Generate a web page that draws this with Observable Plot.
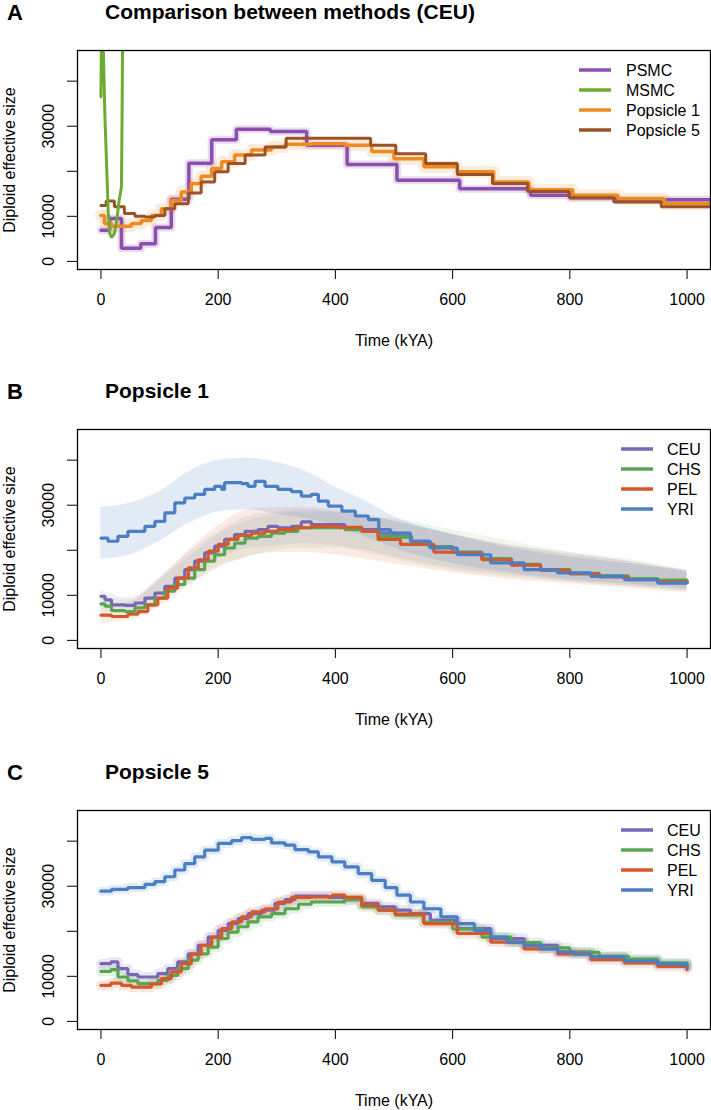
<!DOCTYPE html>
<html>
<head>
<meta charset="utf-8">
<script src="https://cdn.jsdelivr.net/npm/d3@7"></script>
<script src="https://cdn.jsdelivr.net/npm/@observablehq/plot@0.6"></script>
<style>
  body { margin: 0; background: #fff; font-family: "Liberation Sans", Arial, Helvetica, sans-serif; color: #000; }
  .panel { position: relative; width: 711px; }
  .panel svg { display: block; position: absolute; left: 0; top: 0; }
  .letter { position: absolute; left: 7px; top: 0px; font-weight: bold; font-size: 22px; line-height: 1.15; }
  .title { position: absolute; left: 105px; top: 0px; font-weight: bold; font-size: 21px; line-height: 1.15; }
</style>
</head>
<body>
<div id="root"></div>
<script>
// ---------- axes ----------
const xTicks = [0, 200, 400, 600, 800, 1000];
const yTicks = [0, 10000, 20000, 30000, 40000];
const yTickLabels = [0, 10000, 30000];
const xLabel = "Time (kYA)";
const yLabel = "Diploid effective size";

// ---------- panel A: methods (CEU) [kYA, Ne] ----------
const methodNames = ["PSMC", "MSMC", "Popsicle 1", "Popsicle 5"];
const psmcA = [[0,6900],[15,9500],[35,2900],[68,3900],[93,7500],[120,13800],[150,21800],[189,27000],[231,29300],[289,28800],[351,25800],[420,21500],[505,18000],[612,16100],[733,14700],[800,14100],[880,13700],[1100,13700]];
const msmcA = [[0,36500],[0.8,50000],[1.6,60000],[2.4,60000],[3.2,55000],[4,47000],[7,31300],[10,20200],[12.5,10600],[15,6200],[18,5300],[23,6200],[27,9100],[31,13500],[35,16500],[36,31300],[37,50000]];
const pop1A = [[0,10200],[6,8400],[18,7800],[35,7800],[52,8400],[69,9100],[86,10200],[103,11700],[120,13500],[137,15400],[154,17300],[171,18900],[189,20600],[206,22100],[228,23600],[257,24700],[291,25400],[314,26000],[360,26100],[417,25800],[462,24400],[500,22800],[551,21000],[608,19900],[670,17600],[730,15900],[805,14700],[882,13900],[961,12800],[1100,12800]];
const pop5A = [[0,12400],[9,13400],[23,12100],[40,10600],[58,10000],[75,9850],[92,10200],[109,11700],[126,12800],[149,15200],[171,17600],[194,19900],[217,21700],[246,23600],[280,25400],[316,27300],[460,25800],[503,23900],[554,21700],[608,19300],[668,17300],[728,15500],[799,14100],[875,13200],[956,12100],[1100,12100]];

// ---------- population names ----------
const popNames = ["CEU", "CHS", "PEL", "YRI"];

// ---------- panel B: Popsicle 1 ----------
const ceuB = [[0,9800],[7,9000],[18,7900],[41,7750],[58,8300],[75,9400],[92,10500],[109,12000],[126,13800],[143,15700],[160,17600],[177,19400],[194,20900],[211,22400],[228,23500],[246,24200],[268,24600],[285,25300],[302,25000],[325,25300],[342,26300],[359,25700],[388,25700],[416,25000],[445,24600],[473,23800],[502,23100],[530,22000],[560,20800],[600,19600],[650,18100],[700,16800],[750,15600],[800,14800],[850,14200],[900,13600],[950,13200],[1000,13000]];
const chsB = [[0,8100],[7,7600],[18,6600],[41,6400],[58,7200],[75,7900],[92,9400],[109,10900],[126,12400],[143,13800],[160,15700],[177,17600],[194,19000],[211,20500],[228,21600],[246,22700],[268,23100],[291,23800],[314,24200],[336,25000],[359,25000],[388,25000],[416,24600],[445,24200],[473,23100],[502,22900],[530,21900],[560,20700],[600,19500],[650,18100],[700,16900],[750,15700],[800,14900],[850,14300],[900,13700],[950,13400],[1000,13300]];
const pelB = [[0,5600],[18,5300],[46,5800],[63,6400],[80,7900],[97,9400],[114,11600],[131,13800],[149,16100],[166,17900],[183,19800],[200,21300],[217,22400],[234,23300],[257,23800],[280,24200],[302,24600],[331,25000],[359,25300],[405,25100],[445,24200],[473,22400],[511,21300],[568,19600],[608,19300],[650,17900],[700,16700],[750,15600],[800,14800],[850,14100],[900,13500],[950,13000],[1000,12800]];
const yriB = [[0,22700],[12,22000],[29,23100],[46,24200],[63,24200],[75,25300],[92,26400],[109,28300],[126,30500],[143,31600],[160,32400],[177,33500],[194,34200],[206,33500],[211,35000],[240,34800],[251,34200],[263,35300],[280,34200],[302,33500],[325,33000],[342,32000],[359,32400],[371,30900],[388,29800],[411,28700],[434,27600],[456,26800],[474,24600],[494,23800],[528,22000],[562,20500],[608,19000],[665,17200],[722,15700],[779,15000],[836,14200],[893,13500],[950,12700],[1000,12900]];

// bootstrap spread in panel B, [kYA, low, high]
const ceuBandB = [[0,8500,11000],[50,7000,9500],[100,10000,14000],[150,14000,19500],[200,18000,24000],[250,20500,27500],[300,21000,28500],[350,21500,29000],[400,21000,28500],[450,20000,27500],[500,18500,26500],[600,16000,23500],[700,14500,21000],[800,13000,19500],[900,12000,17500],[1000,11000,15000]];
const chsBandB = [[0,6500,9500],[50,6000,9000],[100,9000,13500],[150,12500,18500],[200,16500,23500],[250,18500,26500],[300,20000,28000],[350,20500,28500],[400,20500,28500],[450,19500,27500],[500,18000,27000],[600,15500,24500],[700,14000,22000],[800,13000,19500],[900,12000,18000],[1000,11000,15500]];
const pelBandB = [[0,3800,7500],[50,4500,8500],[100,7500,13500],[150,12000,20000],[200,16000,25500],[250,18500,29000],[300,19500,29500],[350,19500,29500],[400,19000,29000],[450,18000,28000],[500,17000,26500],[600,15000,23500],[700,13500,21000],[800,12500,19000],[900,11500,17500],[1000,10500,15500]];
const yriBandB = [[0,18000,29500],[50,19000,30500],[100,22000,33000],[150,26000,37500],[200,28500,40000],[250,29000,40500],[300,28000,39500],[350,27000,37500],[400,25500,34000],[450,23000,31000],[500,20500,27500],[600,17000,23500],[700,15000,20500],[800,13500,18500],[900,12500,17000],[1000,11500,15500]];

// ---------- panel C: Popsicle 5 ----------
const ceuC = [[0,12800],[17,13200],[29,11700],[46,10400],[63,9850],[80,9850],[97,10600],[114,11700],[131,13200],[149,15000],[166,16900],[183,18700],[200,20200],[217,21700],[234,22800],[251,23900],[274,24700],[297,26200],[314,27000],[331,27800],[359,27800],[388,27500],[416,27000],[445,26200],[473,25400],[502,24700],[528,23900],[562,22400],[608,20600],[665,18400],[722,16900],[779,15400],[836,14300],[893,13600],[950,12800],[1000,12100]];
const chsC = [[0,11100],[17,11500],[29,9850],[46,9000],[63,8400],[80,8400],[97,9100],[114,10200],[131,11700],[149,13600],[166,15000],[183,16500],[200,18400],[217,19800],[234,21000],[251,22100],[268,23200],[291,23900],[314,25000],[337,26000],[359,26500],[388,26500],[416,27000],[445,25400],[473,24700],[502,23600],[550,22000],[600,20500],[650,18700],[700,17500],[750,16300],[800,15300],[850,14500],[900,13800],[950,13000],[1000,12400]];
const pelC = [[0,8000],[17,8500],[35,8000],[52,7600],[69,7600],[86,8300],[103,9500],[120,11000],[137,12800],[154,14900],[171,16900],[189,18700],[206,20600],[223,22100],[240,23200],[257,24300],[280,25000],[302,26500],[325,27500],[359,27600],[394,28000],[416,27500],[445,25800],[473,24700],[502,23800],[551,21700],[608,19500],[665,17600],[722,16100],[779,15000],[836,13700],[893,13000],[950,12200],[1000,11500]];
const yriC = [[0,28900],[18,29300],[46,29700],[75,30400],[92,31000],[109,32100],[126,33600],[143,35000],[160,36500],[177,38000],[200,39500],[223,40100],[240,40800],[257,40400],[280,40600],[291,39600],[314,39100],[331,38100],[354,37600],[371,36500],[394,35400],[416,34300],[439,32800],[462,31300],[485,29700],[505,28000],[528,26500],[551,25000],[580,23200],[608,21700],[637,20200],[665,18700],[693,17600],[722,16900],[750,16100],[779,15400],[807,14900],[836,14300],[893,13400],[950,12700],[1000,12100]];

// ---------- colours ----------
const methodColors = ["#8b4fae", "#6fab32", "#ef8a20", "#9a5228"];
const popColors = ["#7867b5", "#58a552", "#d3582a", "#4b7ec2"];

// ---------- drawing ----------
const FONT = '"Liberation Sans", Arial, Helvetica, sans-serif';

function makePlot(cfg) {
  const marks = [];
  (cfg.bands || []).forEach(b => {
    marks.push(Plot.areaY(b.data, {x: d => d[0], y1: d => d[1], y2: d => d[2], fill: b.color, fillOpacity: b.opacity, curve: "monotone-x", clip: true}));
  });
  cfg.lines.forEach(s => {
    if (s.halo) marks.push(Plot.line(s.data, {x: d => d[0], y: d => d[1], stroke: s.color, strokeWidth: s.halo, strokeOpacity: s.haloOpacity || 0.2, curve: s.curve || "step-after", clip: true}));
  });
  cfg.lines.forEach(s => {
    marks.push(Plot.line(s.data, {x: d => d[0], y: d => d[1], stroke: s.color, strokeWidth: s.width, curve: s.curve || "step-after", clip: true, strokeLinejoin: "miter"}));
  });
  marks.push(
    Plot.axisX({ticks: xTicks, tickSize: 10, tickPadding: 14, tickFormat: d => String(d), label: null, fontSize: 16}),
    Plot.axisY({ticks: yTicks, tickSize: 10, tickFormat: () => "", label: null}),
    Plot.text(yTickLabels, {y: d => d, text: d => String(d), frameAnchor: "left", dx: -28.5, rotate: -90, textAnchor: "middle", lineAnchor: "middle", fontSize: 16}),
    Plot.text([yLabel], {frameAnchor: "left", dx: -68, rotate: -90, textAnchor: "middle", lineAnchor: "middle", fontSize: 16}),
    Plot.text([xLabel], {frameAnchor: "bottom", dy: 71, textAnchor: "middle", lineAnchor: "middle", fontSize: 16}),
    Plot.frame({stroke: "#000", strokeWidth: 1.3})
  );
  const svg = Plot.plot({
    width: 711,
    height: cfg.height,
    marginLeft: 77,
    marginRight: 1,
    marginTop: 50,
    marginBottom: cfg.height - 269,
    x: {domain: [-40, 1040]},
    y: {domain: [-1800, 46800]},
    style: {fontFamily: FONT, fontSize: "16px", color: "#000", background: "transparent"},
    marks
  });
  // legend inside the frame, top-right
  const g = d3.select(svg).append("g").attr("font-family", FONT).attr("font-size", 16).attr("text-anchor", "start");
  cfg.legend.names.forEach((name, i) => {
    const y = 50 + 20 * (i + 1);
    g.append("line").attr("x1", cfg.legend.x1).attr("x2", cfg.legend.x2).attr("y1", y).attr("y2", y)
      .attr("stroke", cfg.legend.colors[i]).attr("stroke-width", 3.5);
    g.append("text").attr("x", cfg.legend.tx).attr("y", y).attr("dy", "0.36em").attr("text-anchor", "start").attr("fill", "#000").text(name);
  });
  return svg;
}

const panels = [
  {
    letter: "A", title: "Comparison between methods (CEU)", height: 379,
    lines: [
      {data: psmcA, color: methodColors[0], width: 3.5, halo: 8, haloOpacity: 0.2},
      {data: pop1A, color: methodColors[2], width: 3.5, halo: 12, haloOpacity: 0.16},
      {data: pop5A, color: methodColors[3], width: 3},
      {data: msmcA, color: methodColors[1], width: 3, curve: "linear"}
    ],
    legend: {names: methodNames, colors: methodColors, x1: 579, x2: 611, tx: 626}
  },
  {
    letter: "B", title: "Popsicle 1", height: 381,
    bands: [
      {data: pelBandB, color: popColors[2], opacity: 0.12},
      {data: chsBandB, color: popColors[1], opacity: 0.1},
      {data: ceuBandB, color: popColors[0], opacity: 0.1},
      {data: yriBandB, color: popColors[3], opacity: 0.16}
    ],
    lines: [
      {data: ceuB, color: popColors[0], width: 3.2},
      {data: chsB, color: popColors[1], width: 3.2},
      {data: pelB, color: popColors[2], width: 3.2},
      {data: yriB, color: popColors[3], width: 3.2}
    ],
    legend: {names: popNames, colors: popColors, x1: 621, x2: 653, tx: 667}
  },
  {
    letter: "C", title: "Popsicle 5", height: 350,
    lines: [
      {data: ceuC, color: popColors[0], width: 3.2, halo: 10, haloOpacity: 0.15},
      {data: chsC, color: popColors[1], width: 3.2, halo: 10, haloOpacity: 0.15},
      {data: pelC, color: popColors[2], width: 3.2, halo: 10, haloOpacity: 0.15},
      {data: yriC, color: popColors[3], width: 3.2, halo: 9, haloOpacity: 0.15}
    ],
    legend: {names: popNames, colors: popColors, x1: 621, x2: 653, tx: 667}
  }
];

const root = document.getElementById("root");
panels.forEach(p => {
  const div = document.createElement("div");
  div.className = "panel";
  div.style.height = p.height + "px";
  div.appendChild(makePlot(p));
  const l = document.createElement("div"); l.className = "letter"; l.textContent = p.letter; div.appendChild(l);
  const t = document.createElement("div"); t.className = "title"; t.textContent = p.title; div.appendChild(t);
  root.appendChild(div);
});
</script>
</body>
</html>
